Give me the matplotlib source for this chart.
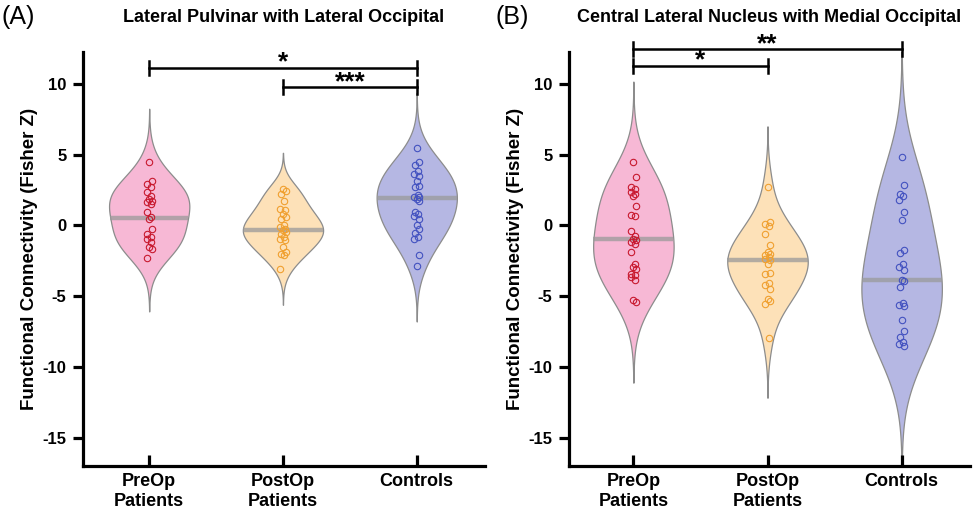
import numpy as np
import matplotlib
matplotlib.use("Agg")
import matplotlib.pyplot as plt

plt.rcParams['font.family'] = ['Liberation Sans', 'DejaVu Sans']
plt.rcParams['axes.unicode_minus'] = False

# --- data ---
groups = ["PreOp\nPatients", "PostOp\nPatients", "Controls"]

# Panel A: Lateral Pulvinar with Lateral Occipital
a_preop = [4.46, 3.17, 2.93, 2.70, 2.35, 2.11, 1.88, 1.70, 1.64, 1.52, 0.94, 0.59,
           0.47, -0.23, -0.59, -0.82, -0.94, -1.17, -1.53, -1.64, -2.28]
a_postop = [2.58, 2.42, 2.23, 1.76, 1.17, 1.06, 0.82, 0.59, 0.47, 0.00, -0.12, -0.23,
            -0.35, -0.47, -0.59, -0.82, -0.94, -1.06, -1.53, -1.88, -1.99, -2.11, -3.05]
a_controls = [5.45, 4.46, 4.30, 3.83, 3.64, 3.52, 3.17, 2.82, 2.70, 2.18, 2.04, 1.99,
              1.88, 1.76, 0.94, 0.82, 0.70, 0.47, 0.00, -0.23, -0.54, -0.82, -0.94,
              -2.11, -2.86]
a_means = [0.52, -0.31, 1.92]

# Panel B: Central Lateral Nucleus with Medial Occipital
b_preop = [4.46, 3.40, 2.70, 2.58, 2.35, 2.23, 2.11, 1.41, 0.77, 0.70, -0.40, -0.77,
           -0.94, -1.06, -1.17, -1.29, -1.88, -2.75, -2.93, -3.05, -3.40, -3.52, -3.64,
           -3.87, -5.28, -5.40]
b_postop = [2.75, 0.23, 0.07, -0.07, -0.59, -1.41, -1.88, -1.99, -2.11, -2.23, -2.35,
            -2.46, -2.70, -3.36, -3.40, -4.06, -4.23, -4.46, -5.23, -5.33, -5.52, -7.92]
b_controls = [4.81, 2.89, 2.23, 2.11, 1.81, 0.94, 0.40, -1.76, -1.92, -2.75, -2.93,
              -3.17, -3.83, -3.92, -4.34, -5.47, -5.59, -5.70, -6.69, -7.44, -7.86,
              -8.22, -8.38, -8.52]
b_means = [-0.94, -2.42, -3.83]

# significance brackets: (x1, x2, y, label)
a_sig = [(1, 3, 11.15, "*"), (2, 3, 9.80, "***")]
b_sig = [(1, 3, 12.45, "**"), (1, 2, 11.30, "*")]

fills = ["#F7B8D5", "#FDE1B8", "#B5B7E3"]
dots = ["#C8192F", "#F0A030", "#4352C0"]


def kde_violin(ax, pos, vals, mean, fill, dot, half_width=0.3):
    x = np.asarray(vals, dtype=float)
    n = len(x)
    sig = np.median(np.abs(x - np.median(x))) / 0.6745
    bw = sig * (4.0 / (3.0 * n)) ** 0.2
    grid = np.linspace(x.min() - 2.9 * bw, x.max() + 2.9 * bw, 300)
    dens = np.exp(-0.5 * ((grid[:, None] - x[None, :]) / bw) ** 2).sum(axis=1)
    w = dens / dens.max() * half_width
    ax.fill_betweenx(grid, pos - w, pos + w, facecolor=fill, edgecolor="#8C8C8C",
                     linewidth=0.9, zorder=1)
    # mean line across violin width
    wm = np.interp(mean, grid, w)
    ax.plot([pos - wm, pos + wm], [mean, mean], color="#9A9A9A", lw=3.2,
            alpha=0.75, solid_capstyle="butt", zorder=2)
    jit = np.array([0.0, 0.02, -0.015, 0.01, -0.02, 0.015])[np.arange(n) % 6]
    ax.plot(pos + jit, x, "o", ms=4.6, mfc="none", mec=dot, mew=0.8, zorder=3)


def bracket(ax, x1, x2, y, label):
    cap = 0.5
    kw = dict(color="black", lw=1.8, clip_on=False, zorder=4)
    ax.plot([x1, x2], [y, y], **kw)
    ax.plot([x1, x1], [y - cap, y + cap], **kw)
    ax.plot([x2, x2], [y - cap, y + cap], **kw)
    ax.text((x1 + x2) / 2, y - 0.5, label, ha="center", va="bottom",
            fontsize=19, fontweight="bold", clip_on=False)


fig = plt.figure(figsize=(9.75, 5.13), dpi=100)
ax1 = fig.add_axes([0.0851, 0.0916, 0.4123, 0.807])
ax2 = fig.add_axes([0.5836, 0.0916, 0.4113, 0.807])

panels = [
    (ax1, [a_preop, a_postop, a_controls], a_means, a_sig, (0.505, 3.51)),
    (ax2, [b_preop, b_postop, b_controls], b_means, b_sig, (0.52, 3.51)),
]

for ax, data, means, sig, xl in panels:
    for i, vals in enumerate(data):
        kde_violin(ax, i + 1, vals, means[i], fills[i], dots[i])
    for s in sig:
        bracket(ax, *s)
    ax.set_xlim(*xl)
    ax.set_ylim(-17, 12.26)
    ax.set_yticks([10, 5, 0, -5, -10, -15])
    ax.set_xticks([1, 2, 3])
    ax.set_xticklabels(groups, linespacing=1.2)
    for sp in ["top", "right"]:
        ax.spines[sp].set_visible(False)
    for sp in ["left", "bottom"]:
        ax.spines[sp].set_linewidth(2.3)
    ax.tick_params(axis="y", direction="out", length=7, width=2.3, labelsize=12, pad=5)
    ax.tick_params(axis="x", direction="in", length=8, width=2.3, labelsize=13, pad=5)
    for lab in ax.get_xticklabels() + ax.get_yticklabels():
        lab.set_fontweight("bold")
    ax.set_ylabel("Functional Connectivity (Fisher Z)", fontsize=13.5, fontweight="bold",
                  labelpad=3)

fig.text(0.291, 0.966, "Lateral Pulvinar with Lateral Occipital", ha="center", va="center",
         fontsize=13, fontweight="bold")
fig.text(0.789, 0.966, "Central Lateral Nucleus with Medial Occipital", ha="center",
         va="center", fontsize=13, fontweight="bold")
fig.text(0.002, 0.966, "(A)", ha="left", va="center", fontsize=18)
fig.text(0.508, 0.966, "(B)", ha="left", va="center", fontsize=18)

fig.savefig("out.png", dpi=100)
